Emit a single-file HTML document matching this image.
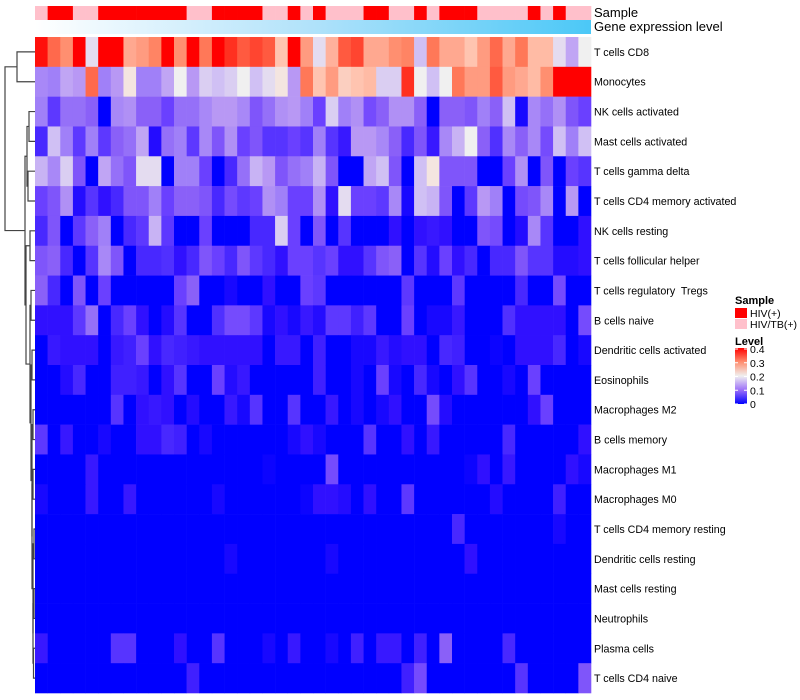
<!DOCTYPE html>
<html><head><meta charset="utf-8"><style>
body{margin:0;background:#fff;}
svg{display:block;font-family:"Liberation Sans",Arial,sans-serif;}
#labels text{white-space:pre;}
</style></head><body>
<svg id="chart" width="800" height="700" viewBox="0 0 800 700">
<defs>
<linearGradient id="geneGrad" x1="0" x2="1" y1="0" y2="0">
<stop offset="0" stop-color="#ffffff"/><stop offset="0.5" stop-color="#b0e2fa"/><stop offset="1" stop-color="#4bc8f7"/>
</linearGradient>
<linearGradient id="levelGrad" x1="0" x2="0" y1="0" y2="1">
<stop offset="0" stop-color="#ff0000"/><stop offset="0.25" stop-color="#ff8f70"/><stop offset="0.5" stop-color="#f0f0f0"/><stop offset="0.75" stop-color="#9c70f8"/><stop offset="1" stop-color="#0000ff"/>
</linearGradient>
</defs>
<g id="samplebar"></g>
<rect x="35" y="20" width="556" height="14" fill="url(#geneGrad)"/>
<text x="594" y="17" font-size="13" fill="#000">Sample</text>
<text x="594" y="31" font-size="13" fill="#000">Gene expression level</text>
<g id="cells"></g>
<g id="labels"></g>
<g id="dendro" stroke="#444" stroke-width="1.2" fill="none"></g>
<g>
<text x="735" y="304" font-size="11" font-weight="bold">Sample</text>
<rect x="735" y="308" width="12" height="10" fill="#ff0000"/>
<text x="750" y="317" font-size="10.5">HIV(+)</text>
<rect x="735" y="319" width="12" height="10" fill="#ffc0cb"/>
<text x="750" y="328" font-size="10.5">HIV/TB(+)</text>
<text x="735" y="345" font-size="11" font-weight="bold">Level</text>
<rect x="735" y="348" width="12" height="56" fill="url(#levelGrad)"/>
<g id="levelTicks"></g>
</g>
</svg>
<script>
const rowNames=["T cells CD8","Monocytes","NK cells activated","Mast cells activated","T cells gamma delta","T cells CD4 memory activated","NK cells resting","T cells follicular helper","T cells regulatory  Tregs","B cells naive","Dendritic cells activated","Eosinophils","Macrophages M2","B cells memory","Macrophages M1","Macrophages M0","T cells CD4 memory resting","Dendritic cells resting","Mast cells resting","Neutrophils","Plasma cells","T cells CD4 naive"];
const sampleGroups="PRRPPRRRRRRRPPRRRRPPRPRPPPRRPPRPRRRPPPPRPRPP".split("");
const levelTicks=[0.4,0.3,0.2,0.1,0];
const r0=[.39,.32,.29,.4,.19,.4,.4,.27,.28,.3,.4,.29,.4,.31,.4,.37,.33,.35,.33,.24,.4,.28,.19,.26,.33,.35,.27,.27,.29,.3,.17,.31,.27,.27,.24,.28,.32,.27,.31,.25,.25,.19,.15,.2];
const r1=[.12,.11,.15,.14,.32,.11,.14,.21,.11,.11,.15,.2,.14,.18,.17,.18,.2,.17,.19,.21,.14,.31,.24,.28,.23,.24,.25,.18,.18,.37,.2,.17,.2,.31,.28,.28,.33,.28,.27,.25,.29,.4,.4,.4];
const r2=[.11,.05,.1,.1,.09,0,.12,.13,.09,.09,.06,.1,.1,.12,.14,.14,.12,.08,.1,.13,.14,.11,.06,.18,.11,.13,.07,.09,.13,.13,.09,0,.09,.09,.08,.11,.09,.17,.01,.12,.1,.13,.08,.06];
const r3=[.035,.17,.11,.05,.11,.05,.09,.1,.15,.015,.1,.11,.05,.12,.08,.13,.06,.08,.045,.045,.06,.045,.11,.045,.025,.14,.14,.12,.09,.035,.08,.025,.12,.16,.2,.09,.04,.12,.09,.12,.07,.17,.11,.17];
const r4=[.16,.12,.18,.08,0,.15,.1,.08,.19,.19,0,.11,.11,.06,0,.035,.1,.16,.14,.08,.1,.11,.16,.08,0,0,.15,.17,.08,0,.17,.21,.08,.08,.08,0,0,.06,.13,0,.08,0,.06,.045];
const r5=[.06,.08,.13,.015,.045,.02,.035,.08,.08,.11,.06,.09,.09,.08,.035,.07,.05,.06,.13,.11,.06,.06,.13,.02,.19,.06,.06,.05,.12,.01,.17,.16,.08,0,.05,.14,.11,0,.07,.08,.12,0,.14,0];
const r6=[.035,.08,0,.05,.09,.11,0,.035,.05,.16,.05,0,0,.06,0,0,0,.035,.035,.18,.06,0,.08,0,.045,0,0,0,.02,0,.02,.025,.02,0,0,.08,.07,0,.015,.12,.045,0,0,.02];
const r7=[.08,.09,.035,0,.045,.12,.08,0,.035,.035,.04,.02,.035,.08,.06,.035,.08,.05,.035,.02,.06,.06,.045,.06,.02,.02,.045,.08,.09,0,.045,.015,.06,.02,.035,0,.035,.035,.08,.045,.045,.015,.015,.02];
const r8=[.09,.035,0,.08,0,.06,0,0,0,0,0,.06,.09,0,0,.01,0,0,.02,0,0,.06,.05,0,0,0,0,0,0,.05,0,0,0,.05,0,0,0,0,.035,0,0,.07,0,0];
const r9=[.02,.02,.02,.05,.1,0,.035,.06,.02,0,.015,.045,0,0,.04,.07,.07,.05,.01,.02,.01,.025,.015,.05,.05,.03,.05,0,0,.06,0,.01,.01,.025,0,0,0,.04,.02,.02,.02,.02,0,.07];
const r10=[0,.025,.02,.02,.02,0,.025,.03,.06,.02,.035,.03,.025,.02,.02,.02,.02,.02,0,.025,.025,0,.03,0,0,.01,.01,.025,.015,.02,.02,0,.035,.03,0,0,.005,0,.02,.02,.02,.035,0,.01];
const r11=[0,0,.015,.035,0,0,.03,.03,.025,0,.02,.045,0,0,.06,.015,.025,0,0,0,0,0,.03,0,0,.01,0,.06,.01,0,.035,.01,0,.02,.045,0,0,.01,0,.06,0,0,0,0];
const r12=[0,0,0,0,0,0,.045,0,.02,.025,.02,0,.015,0,0,.025,.01,.045,0,0,.045,0,0,.025,0,.01,0,.01,.02,0,0,.07,.015,0,0,0,0,0,0,.02,.06,0,0,0];
const r13=[.05,0,.025,0,0,.01,0,0,.02,.02,.035,.03,0,.01,0,0,0,0,0,0,.01,.02,.01,0,0,0,.045,0,0,.02,0,.025,0,0,0,0,0,.035,0,0,0,0,0,.02];
const r14=[0,0,0,0,.025,0,0,0,0,0,0,0,0,0,0,0,0,0,.005,0,0,0,0,.07,0,0,0,0,0,0,0,0,0,0,.005,.02,0,.025,0,0,0,0,.02,.01];
const r15=[.01,0,0,0,.025,0,0,.025,0,0,0,0,0,0,.01,0,0,0,0,0,0,.005,.02,.02,.015,0,.02,0,0,.05,0,0,0,0,0,0,.015,0,0,0,0,.03,0,0];
const r16=[0,0,0,0,0,0,0,0,0,0,0,0,0,0,0,0,0,0,0,0,0,0,0,0,0,0,0,0,0,0,0,0,0,.035,0,0,0,0,0,0,0,.01,0,0];
const r17=[0,0,0,0,0,0,0,0,0,0,0,0,0,0,0,.01,0,0,0,0,0,0,0,.01,0,0,0,0,0,0,0,0,0,0,.02,0,0,0,0,0,0,0,0,0];
const r18=[0,0,0,0,0,0,0,0,0,0,0,0,0,0,0,0,0,0,0,0,0,0,0,0,0,0,0,0,0,0,0,0,0,0,0,0,0,0,0,0,0,0,0,0];
const r19=[0,0,0,0,0,0,0,0,0,0,0,0,0,0,0,0,0,0,0,0,0,0,0,0,0,0,0,0,0,0,0,0,0,0,0,0,0,0,0,0,0,0,0,0];
const r20=[.025,0,0,0,0,0,.045,.045,0,0,0,.02,0,0,.045,0,0,0,.01,0,.025,0,0,.01,0,.03,0,.025,.025,0,.03,0,.09,0,0,0,0,.035,0,0,0,0,0,0];
const r21=[0,0,0,0,0,0,0,0,0,0,0,0,.03,0,0,0,0,0,0,0,0,0,0,0,0,0,0,0,0,.03,.07,0,0,0,0,0,0,0,.045,0,0,0,0,.08];
const matrix=[r0,r1,r2,r3,r4,r5,r6,r7,r8,r9,r10,r11,r12,r13,r14,r15,r16,r17,r18,r19,r20,r21];

const NS="http://www.w3.org/2000/svg";
const X0=35,X1=591,Y0=37,Y1=693;
const nCol=sampleGroups.length,nRow=rowNames.length;
const cw=(X1-X0)/nCol,rh=(Y1-Y0)/nRow;
const xPos=i=>X0+i*cw, yPos=j=>Y0+j*rh;
const stops=[[0,[0,0,255]],[.02,[48,16,255]],[.04,[80,48,255]],[.06,[106,64,255]],[.09,[138,96,248]],[.11,[160,128,248]],[.14,[184,152,244]],[.17,[208,192,244]],[.19,[228,220,240]],[.2,[240,240,240]],[.24,[255,196,176]],[.27,[255,168,144]],[.29,[255,143,112]],[.31,[255,120,88]],[.33,[255,90,64]],[.37,[255,48,32]],[.4,[255,0,0]]];
function col(v){v=Math.max(0,Math.min(.4,v));for(let k=1;k<stops.length;k++){if(v<=stops[k][0]){const a=stops[k-1],b=stops[k],t=(v-a[0])/(b[0]-a[0]);const c=a[1].map((q,i)=>Math.round(q+(b[1][i]-q)*t));return `rgb(${c})`;}}return "rgb(255,0,0)";}
function mk(tag,attrs,parent){const e=document.createElementNS(NS,tag);for(const k in attrs)e.setAttribute(k,attrs[k]);parent.appendChild(e);return e;}
const sb=document.getElementById("samplebar");
sampleGroups.forEach((g,i)=>{const r=mk("rect",{x:xPos(i),y:6,width:cw+0.3,height:14,fill:g==="R"?"#ff0000":"#ffc0cb"},sb);

});
const cells=document.getElementById("cells");
matrix.forEach((row,j)=>row.forEach((v,i)=>{const r=mk("rect",{x:xPos(i),y:yPos(j),width:cw+0.3,height:rh+0.3,fill:col(v)},cells);

}));
const lab=document.getElementById("labels");
rowNames.forEach((n,j)=>{const t=mk("text",{x:594,y:yPos(j)+rh/2+4,"font-size":"10.7",fill:"#000"},lab);t.textContent=n;

});
const lt=document.getElementById("levelTicks");
levelTicks.forEach(v=>{const y=404-v/0.4*55;
const a=mk("line",{x1:735,x2:738,y1:y,y2:y,stroke:"#fff","stroke-width":1},lt);


const b=mk("line",{x1:744,x2:747,y1:y,y2:y,stroke:"#fff","stroke-width":1},lt);


const t=mk("text",{x:750,y:y+4,"font-size":"10.5"},lt);t.textContent=String(v);

});
const C={x:30,l:{x:31,l:8,r:9},r:{x:31,l:{x:32,l:10,r:11},r:{x:32,l:{x:33,l:12,r:13},r:{x:32,l:{x:33,l:14,r:15},r:{x:33,l:{x:34,l:16,r:17},r:{x:33,l:{x:34,l:18,r:19},r:{x:33.5,l:20,r:21}}}}}}};
const tree={x:5,l:{x:17,l:0,r:1},r:{x:25,l:{x:27,l:{x:29,l:2,r:3},r:{x:28,l:4,r:5}},r:{x:26,l:{x:30,l:6,r:7},r:C}}};
const dg=document.getElementById("dendro");
function draw(n){if(typeof n==="number")return{y:yPos(n)+rh/2,x:35};const a=draw(n.l),b=draw(n.r);
const p=mk("path",{d:`M${a.x},${a.y}H${n.x}V${b.y}H${b.x}`},dg);


return{y:(a.y+b.y)/2,x:n.x};}
draw(tree);
</script>
</body></html>
